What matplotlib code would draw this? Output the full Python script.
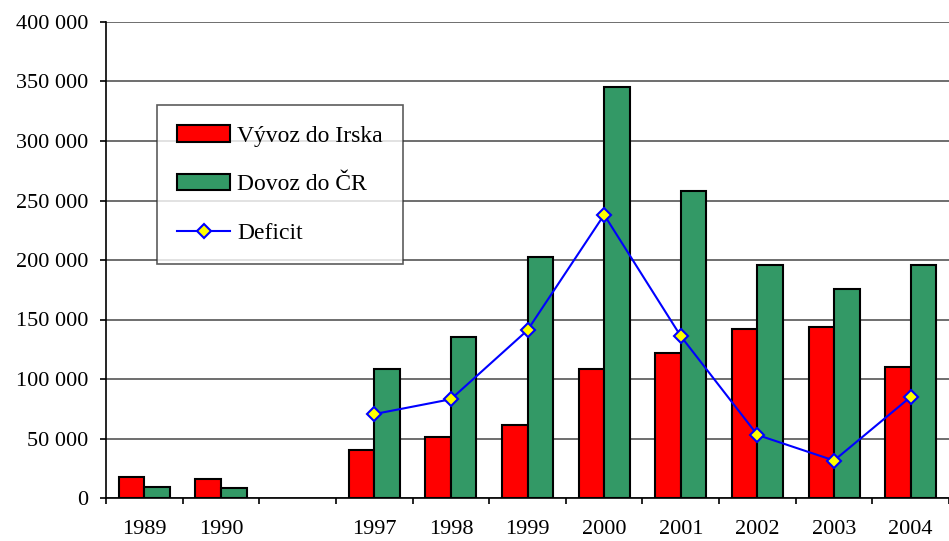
import numpy as np
import matplotlib
matplotlib.use("Agg")
import matplotlib.pyplot as plt
from matplotlib.ticker import FuncFormatter, FixedLocator

plt.rcParams['font.family'] = ['Liberation Serif', 'DejaVu Serif']

# data
years = ['1989', '1990', '', '1997', '1998', '1999', '2000', '2001', '2002', '2003', '2004']
vyvoz = [18000, 16000, np.nan, 40000, 51000, 61500, 108500, 122000, 142000, 144000, 110500]
dovoz = [9500, 8000, np.nan, 108500, 135500, 202500, 345500, 258000, 195500, 176000, 195500]
deficit = [np.nan, np.nan, np.nan, 70500, 83000, 141000, 238000, 136000, 53000, 31500, 85000]

x = np.arange(len(years))
w = 1 / 3

fig = plt.figure(figsize=(9.49, 5.41), dpi=100)
ax = fig.add_axes([106 / 949, 43 / 541, 843 / 949, 476 / 541])

b1 = ax.bar(x - w / 2, vyvoz, w, color='#FF0000', edgecolor='black', linewidth=1.5,
            label='Vývoz do Irska', zorder=3)
b2 = ax.bar(x + w / 2, dovoz, w, color='#339966', edgecolor='black', linewidth=1.5,
            label='Dovoz do ČR', zorder=3)
ln, = ax.plot(x, deficit, color='#0000FF', lw=1.5, marker='D', ms=7, mfc='#FFFF00',
              mec='#0000FF', mew=1.5, label='Deficit', zorder=4)

ax.set_ylim(0, 400000)
ax.set_xlim(-0.5, -0.5 + 843 / 77.5)
ax.yaxis.set_major_locator(FixedLocator(np.arange(0, 400001, 50000)))
ax.yaxis.set_major_formatter(FuncFormatter(lambda v, p: f'{int(v):,}'.replace(',', ' ')))
ax.yaxis.grid(True, color='#555555', lw=1.2, zorder=0)

# category ticks between groups, labels at centres
ax.set_xticks(np.arange(-0.5, 10.6, 1.0))
ax.set_xticklabels([])
ax.set_xticks(x, minor=True)
ax.set_xticklabels(years, minor=True)
ax.tick_params(axis='x', which='major', length=4.5, width=1.2, direction='out')
ax.tick_params(axis='x', which='minor', length=0, pad=16, labelsize=16)
ax.tick_params(axis='y', length=4.5, width=1.2, labelsize=16, pad=8)

for s in ['top', 'right']:
    ax.spines[s].set_visible(False)
ax.spines['left'].set_linewidth(1.2)
ax.spines['bottom'].set_linewidth(1.2)

leg = ax.legend([b1, b2, ln], ['Vývoz do Irska', 'Dovoz do ČR', 'Deficit'],
                loc='upper left', bbox_to_anchor=((157 - 106) / 843, (498 - 105) / 476),
                fontsize=17, frameon=True, fancybox=False, edgecolor='#333333',
                borderpad=0.85, labelspacing=1.15, handlelength=2.25, handletextpad=0.3,
                borderaxespad=0)
leg.get_frame().set_linewidth(1.2)

fig.savefig('out.png', dpi=100)
